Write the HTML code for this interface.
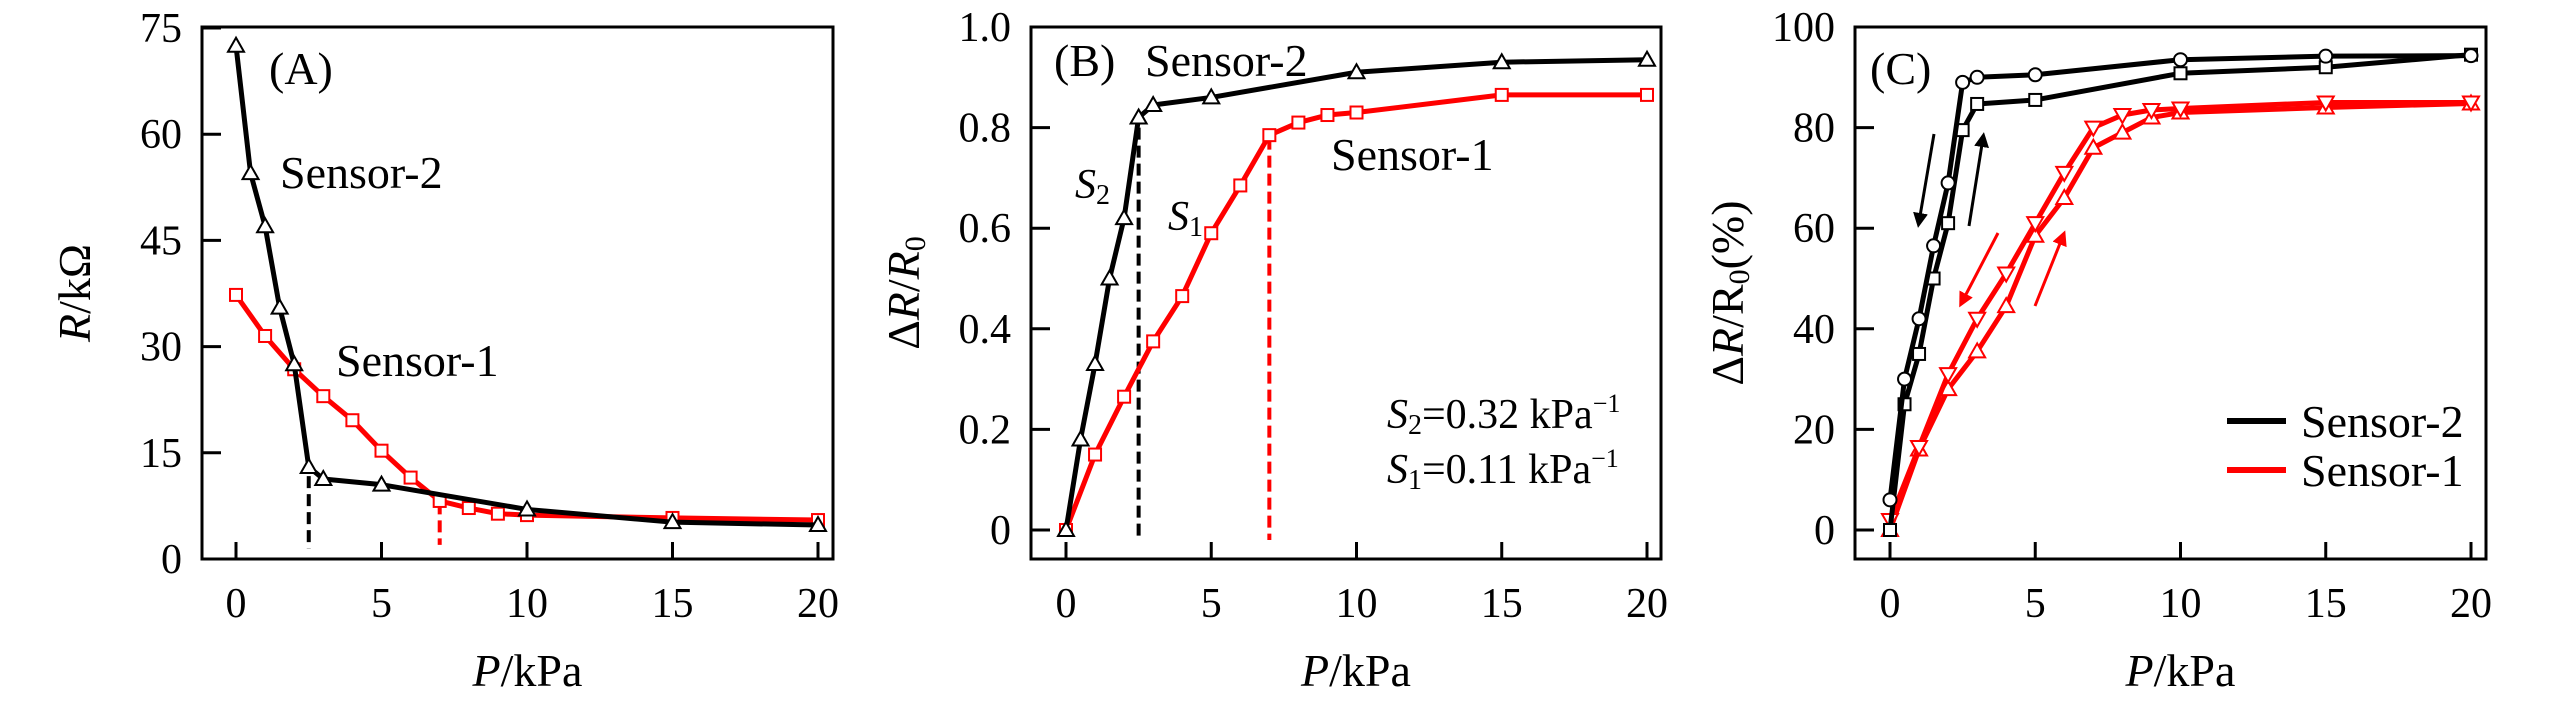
<!DOCTYPE html>
<html><head><meta charset="utf-8"><style>
body{margin:0;background:#fff;width:2567px;height:709px;overflow:hidden}
svg{display:block}
svg text{font-family:"Liberation Serif","DejaVu Serif",serif}
</style></head><body>
<svg id="fig" width="2567" height="709" xmlns="http://www.w3.org/2000/svg" font-family="Liberation Serif, DejaVu Serif, serif"></svg>
<script>
const xs2 = [0,0.5,1,1.5,2,2.5,3,5,10,15,20];
const xs1 = [0,1,2,3,4,5,6,7,8,9,10,15,20];
const aS2 = [72.5,54.5,47,35.5,27.5,13,11.3,10.5,7,5.2,4.8];
const aS1 = [37.3,31.5,26.8,23,19.6,15.3,11.5,8.2,7.2,6.4,6.2,5.8,5.5];
const bS2 = [0,0.18,0.33,0.5,0.62,0.82,0.845,0.86,0.91,0.93,0.935];
const bS1 = [0,0.15,0.265,0.375,0.465,0.59,0.685,0.785,0.81,0.825,0.83,0.865,0.865];
const cS2unload = [6,30,42,56.5,69,89,90,90.5,93.5,94.2,94.3];
const cS2load = [0,25,35,50,61,79.5,84.7,85.5,90.8,92,94.5];
const cS1unload = [2,16.5,31,42,51,61,71,80,82.5,83.5,83.8,85,85];
const cS1load = [0,16,28,35.5,44.5,58.5,66,76,79,82,83,84,84.8];
const xTicks = [0,5,10,15,20];
const aYTicks = [0,15,30,45,60,75];
const bYTicks = [0,0.2,0.4,0.6,0.8,1.0];
const bYLabels = ["0","0.2","0.4","0.6","0.8","1.0"];
const cYTicks = [0,20,40,60,80,100];

const NS="http://www.w3.org/2000/svg";
const svg=document.getElementById('fig');
function mk(tag,attrs,parent,text){const e=document.createElementNS(NS,tag);for(const k in attrs)e.setAttribute(k,attrs[k]);if(tag==='text')e.setAttribute('font-family','Liberation Serif, DejaVu Serif, serif');if(text!==undefined)e.textContent=text;(parent||svg).appendChild(e);return e;}

function panel(id,fx0,fx1,x0px,x20px,y0v,y0px,y1v,y1px){
  const g=mk('g',{});
  
  
  const X=v=>x0px+(x20px-x0px)*v/20;
  const Y=v=>y0px+(y1px-y0px)*(v-y0v)/(y1v-y0v);
  return {g,X,Y,fx0,fx1};
}
function frame(p,yTicks,yLabels,ytitle){
  const g=p.g;
  const f=mk('rect',{x:p.fx0,y:27,width:p.fx1-p.fx0,height:532,fill:'none',stroke:'#000','stroke-width':3},g);
  
  
  xTicks.forEach(t=>{
    const l=mk('line',{x1:p.X(t),x2:p.X(t),y1:559,y2:542,stroke:'#000','stroke-width':3},g);
    
    
    const tx=mk('text',{x:p.X(t),y:617,'font-size':42,'text-anchor':'middle'},g,String(t));
    
    
  });
  yTicks.forEach((t,i)=>{
    const l=mk('line',{x1:p.fx0,x2:p.fx0+19,y1:p.Y(t),y2:p.Y(t),stroke:'#000','stroke-width':3},g);
    
    
    const tx=mk('text',{x:p.fx0-20,y:p.Y(t)+14,'font-size':42,'text-anchor':'end'},g,yLabels[i]);
    
    
  });
  const xt=mk('text',{x:(p.fx0+p.fx1)/2+10,y:686,'font-size':46,'text-anchor':'middle'},g);
  
  
  mk('tspan',{'font-style':'italic'},xt,'P');
  mk('tspan',{},xt,'/kPa');
  const yt=mk('text',{transform:`translate(${p.fx0-112},293) rotate(-90)`,'font-size':46,'text-anchor':'middle'},g);
  
  
  ytitle(yt);
}
function marker(g,type,x,y,color){
  let e;
  if(type==='sq') e=mk('rect',{x:x-6,y:y-6,width:12,height:12,fill:'#fff',stroke:color,'stroke-width':2},g);
  else if(type==='ci') e=mk('circle',{cx:x,cy:y,r:6.5,fill:'#fff',stroke:color,'stroke-width':2},g);
  else if(type==='tu') e=mk('polygon',{points:`${x},${y-8} ${x-8},${y+6} ${x+8},${y+6}`,fill:'#fff',stroke:color,'stroke-width':2},g);
  else e=mk('polygon',{points:`${x},${y+8} ${x-8},${y-6} ${x+8},${y-6}`,fill:'#fff',stroke:color,'stroke-width':2},g);
  
  
}
function series(p,xsArr,ys,color,mtype,name){
  const g=mk('g',{},p.g);
  
  
  const pts=xsArr.map((x,i)=>p.X(x)+','+p.Y(ys[i])).join(' ');
  mk('polyline',{points:pts,fill:'none',stroke:color,'stroke-width':5,'stroke-linejoin':'round'},g);
  xsArr.forEach((x,i)=>marker(g,mtype,p.X(x),p.Y(ys[i]),color));
}
function dashed(p,x,ya,yb,color){
  const l=mk('line',{x1:p.X(x),x2:p.X(x),y1:p.Y(ya),y2:p.Y(yb),stroke:color,'stroke-width':4,'stroke-dasharray':'12,6'},p.g);
  
  
}
function label(p,x,y,txt,size,name){
  const t=mk('text',{x:x,y:y,'font-size':size||44},p.g,txt);
  
  
  return t;
}

// Panel A
const A=panel('a',202,833,236,818,0,559,75,28);
frame(A,aYTicks,aYTicks.map(String),yt=>{mk('tspan',{'font-style':'italic'},yt,'R');mk('tspan',{},yt,'/kΩ');});
dashed(A,2.5,11.7,1.5,'#000');
dashed(A,7,8,2,'#f00');
series(A,xs1,aS1,'#f00','sq','sensor-1-series');
series(A,xs2,aS2,'#000','tu','sensor-2-series');
label(A,269,84,'(A)',46,'panel-label-a');
label(A,280,188,'Sensor-2',46,'sensor-2-label');
label(A,336,376,'Sensor-1',46,'sensor-1-label');

// Panel B
const B=panel('b',1031,1661,1066,1647,0,530,1,27);
frame(B,bYTicks,bYLabels,yt=>{mk('tspan',{},yt,'Δ');mk('tspan',{'font-style':'italic'},yt,'R');mk('tspan',{},yt,'/');mk('tspan',{'font-style':'italic'},yt,'R');mk('tspan',{'font-size':30,dy:6},yt,'0');});
dashed(B,2.5,0.8,-0.02,'#000');
dashed(B,7,0.78,-0.02,'#f00');
series(B,xs1,bS1,'#f00','sq','sensor-1-series');
series(B,xs2,bS2,'#000','tu','sensor-2-series');
label(B,1054,76,'(B)',46,'panel-label-b');
label(B,1145,76,'Sensor-2',46,'sensor-2-label');
label(B,1331,170,'Sensor-1',46,'sensor-1-label');
function sLabel(x,y,sub,rest,name){
  const t=mk('text',{x:x,y:y,'font-size':42},B.g);
  
  
  mk('tspan',{'font-style':'italic'},t,'S');
  mk('tspan',{'font-size':28,dy:6},t,sub);
  if(rest){mk('tspan',{dy:-6},t,rest);mk('tspan',{'font-size':26,dy:-16},t,'−1');}
}
sLabel(1075,198,'2','','s2-slope-label');
sLabel(1168,230,'1','','s1-slope-label');
sLabel(1387,428,'2','=0.32 kPa','s2-sensitivity');
sLabel(1387,483,'1','=0.11 kPa','s1-sensitivity');

// Panel C
const C=panel('c',1855,2486,1890,2471,0,530,100,27);
frame(C,cYTicks,cYTicks.map(String),yt=>{mk('tspan',{},yt,'Δ');mk('tspan',{'font-style':'italic'},yt,'R');mk('tspan',{},yt,'/R');mk('tspan',{'font-size':30,dy:6},yt,'0');mk('tspan',{dy:-6},yt,'(%)');});
series(C,xs1,cS1load,'#f00','tu','sensor-1-loading');
series(C,xs1,cS1unload,'#f00','td','sensor-1-unloading');
series(C,xs2,cS2load,'#000','sq','sensor-2-loading');
series(C,xs2,cS2unload,'#000','ci','sensor-2-unloading');
label(C,1870,84,'(C)',46,'panel-label-c');
const defs=mk('defs',{});
function arrowhead(id,color){const m=mk('marker',{id:id,markerWidth:5,markerHeight:5,refX:3,refY:2.5,orient:'auto',markerUnits:'strokeWidth'},defs);mk('path',{d:'M0,0 L5,2.5 L0,5 z',fill:color},m);}
arrowhead('ak','#000');arrowhead('ar','#f00');
function arrow(x1,y1,x2,y2,color,id,name){const l=mk('line',{x1,y1,x2,y2,stroke:color,'stroke-width':3,'marker-end':`url(#${id})`},C.g);}
arrow(1934,134,1919,222,'#000','ak','unloading-arrow-black');
arrow(1969,226,1983,138,'#000','ak','loading-arrow-black');
arrow(1998,233,1962,302,'#f00','ar','unloading-arrow-red');
arrow(2035,306,2063,236,'#f00','ar','loading-arrow-red');
const lg=mk('g',{},C.g);


const l1=mk('line',{x1:2227,x2:2286,y1:421,y2:421,stroke:'#000','stroke-width':6},lg);


const t1=mk('text',{x:2301,y:437,'font-size':46},lg,'Sensor-2');


const l2=mk('line',{x1:2227,x2:2286,y1:470,y2:470,stroke:'#f00','stroke-width':6},lg);


const t2=mk('text',{x:2301,y:486,'font-size':46},lg,'Sensor-1');


</script>
</body></html>
